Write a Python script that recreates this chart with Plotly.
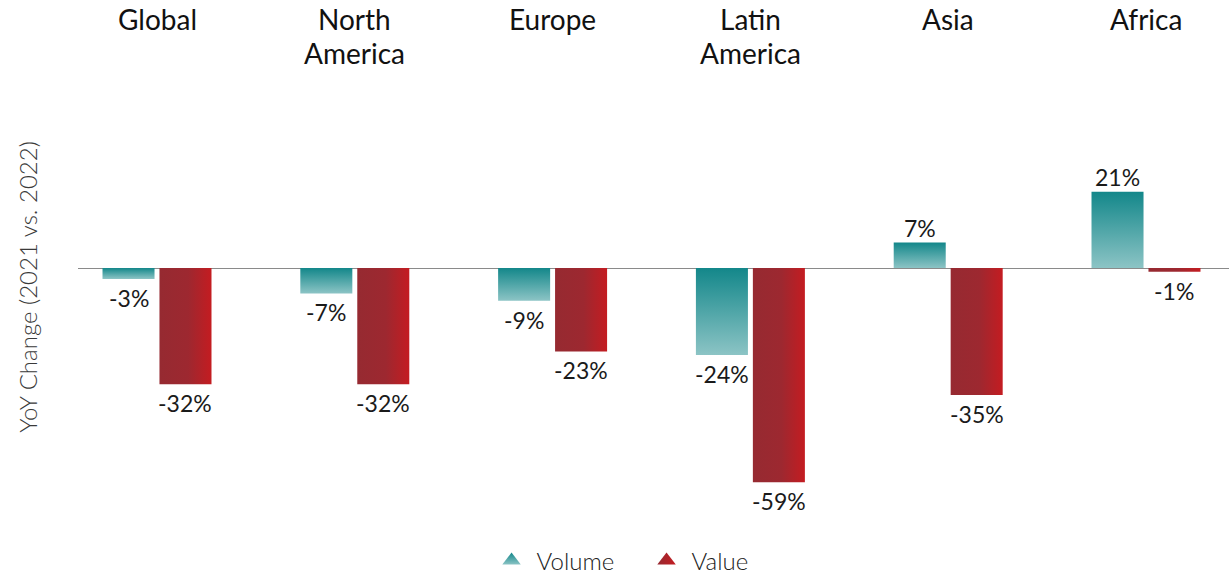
import plotly.graph_objects as go

categories = ["Global", "North America", "Europe", "Latin America", "Asia", "Africa"]
volume = [-3, -7, -9, -24, 7, 21]
value = [-32, -32, -23, -59, -35, -1]
series_names = ["Volume", "Value"]

FONT = "Lato, 'Open Sans', sans-serif"
TEAL_DARK = "#13878a"
TEAL_LIGHT = "#8cc4c5"
RED_DARK = "#962a31"
RED_MID = "#9d2830"
RED_BRIGHT = "#c41c21"

W, H = 1229, 577
MT, MB, ML, MR = 70, 73, 78, 0
PH = H - MT - MB

BAR_W = 0.263
OFF = 0.144

fig = go.Figure()

def bar_poly(cx, v):
    x0, x1 = cx - BAR_W / 2, cx + BAR_W / 2
    return [x0, x1, x1, x0, x0], [0, 0, v, v, 0]

for i, v in enumerate(volume):
    xs, ys = bar_poly(i - OFF, v)
    fig.add_trace(go.Scatter(
        x=xs, y=ys, mode="lines", fill="toself", line=dict(width=0),
        fillgradient=dict(type="vertical", colorscale=[[0, TEAL_LIGHT], [1, TEAL_DARK]]),
        showlegend=False, hoverinfo="skip"))

for i, v in enumerate(value):
    xs, ys = bar_poly(i + OFF, v)
    fig.add_trace(go.Scatter(
        x=xs, y=ys, mode="lines", fill="toself", line=dict(width=0),
        fillgradient=dict(type="horizontal",
                          colorscale=[[0, RED_DARK], [0.55, RED_MID], [1, RED_BRIGHT]]),
        showlegend=False, hoverinfo="skip"))

# data labels
for vals, off in ((volume, -OFF), (value, OFF)):
    for i, v in enumerate(vals):
        fig.add_annotation(
            x=i + off, y=v, xref="x", yref="y", text=f"{v}%", showarrow=False,
            xanchor="center", yanchor="middle",
            yshift=15 if v >= 0 else -19,
            font=dict(family=FONT, size=23, color="#1a1a1a"))

# legend entries
fig.add_trace(go.Scatter(
    x=[None], y=[None], mode="markers", name=series_names[0],
    marker=dict(symbol="triangle-up", size=22, color=TEAL_DARK,
                gradient=dict(type="vertical", color=TEAL_LIGHT))))
fig.add_trace(go.Scatter(
    x=[None], y=[None], mode="markers", name=series_names[1],
    marker=dict(symbol="triangle-up", size=22, color=RED_DARK,
                gradient=dict(type="horizontal", color=RED_BRIGHT))))

# category labels (top)
line_px = [19.5, 53.5]
for i, cat in enumerate(categories):
    parts = cat.split(" ")
    for j, part in enumerate(parts):
        fig.add_annotation(
            x=i, y=1 + (MT - line_px[j]) / PH, xref="x", yref="paper",
            text=part, showarrow=False, xanchor="center", yanchor="middle",
            font=dict(family=FONT, size=28, color="#111111"))

px_per_unit = 3.63
zero_px = 268
y_top = (zero_px - MT) / px_per_unit
y_bot = -((H - MB) - zero_px) / px_per_unit

x_left = (ML - 157) / 197.8
x_right = (W - MR - 157) / 197.8

fig.update_layout(
    width=W, height=H,
    margin=dict(l=ML, r=MR, t=MT, b=MB),
    paper_bgcolor="white", plot_bgcolor="white",
    font=dict(family=FONT, color="#222222"),
    xaxis=dict(range=[x_left, x_right], showgrid=False, zeroline=False,
               showticklabels=False, showline=False, fixedrange=True),
    yaxis=dict(range=[y_bot, y_top], showgrid=False, zeroline=True,
               zerolinecolor="#8a8a8a", zerolinewidth=1,
               showticklabels=False, showline=False, fixedrange=True,
               title=dict(text="YoY Change (2021 vs. 2022)",
                          font=dict(family=FONT, size=24, color="#3a3a3a", weight=300),
                          standoff=32)),
    legend=dict(orientation="h", xref="container", yref="container",
                x=0.522, y=1 - 561 / H, xanchor="center", yanchor="middle",
                itemwidth=40, entrywidth=100,
                font=dict(family=FONT, size=24, color="#222222", weight=300)),
    showlegend=True,
)

fig.write_html("out.html", config={"displayModeBar": False},
               post_script="document.body.style.margin='0';")
